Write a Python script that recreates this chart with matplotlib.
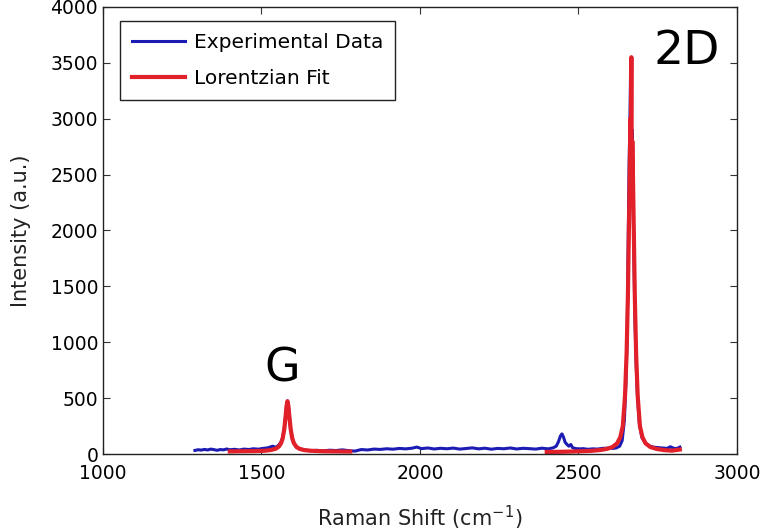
import matplotlib
matplotlib.use('Agg')
import matplotlib.pyplot as plt
import numpy as np

# experimental spectrum (blue)
exp_x = [1290, 1300, 1310, 1320, 1330, 1340, 1350, 1360, 1370, 1380, 1390, 1400,
         1415, 1430, 1445, 1460, 1475, 1490, 1505, 1520, 1535,
         1545, 1555, 1562, 1567, 1572, 1576, 1579, 1582, 1585, 1588, 1592, 1597,
         1602, 1610, 1620,
         1635, 1655, 1675, 1695, 1715, 1735, 1755, 1775, 1795, 1815, 1835, 1855,
         1875, 1895, 1915, 1935, 1955, 1975, 1990, 2005, 2025, 2045, 2065, 2085,
         2105, 2125, 2145, 2165, 2185, 2205, 2225, 2245, 2265, 2285, 2305, 2325,
         2345, 2365, 2385, 2405, 2420,
         2430, 2437, 2443, 2448, 2453, 2458, 2464, 2470, 2476, 2482, 2490,
         2500, 2515, 2530, 2545, 2560, 2575, 2590, 2600, 2610,
         2620, 2630, 2638, 2645, 2650, 2654, 2657, 2660, 2662, 2664, 2665, 2666,
         2668, 2670, 2672, 2675, 2678, 2682, 2686, 2692, 2700, 2710, 2725, 2740,
         2760, 2780, 2790, 2800, 2810, 2820]
exp_y = [32, 38, 35, 41, 36, 44, 39, 33, 40, 37, 45, 38,
         42, 36, 44, 40, 47, 43, 50, 55, 70,
         60, 80, 110, 150, 230, 340, 430, 475, 420, 330, 220, 140,
         100, 62, 48,
         36, 30, 33, 28, 34, 31, 37, 30, 26, 40, 36, 44,
         41, 47, 43, 50, 46, 52, 62, 48, 54, 45, 51, 47,
         53, 44, 49, 55, 46, 52, 43, 50, 47, 54, 45, 51,
         48, 44, 52, 46, 55,
         70, 110, 160, 180, 150, 105, 85, 70, 85, 55, 50,
         45, 48, 42, 46, 44, 50, 52, 55, 50,
         55, 70, 120, 300, 650, 1100, 1900, 2600, 2900, 3300, 3540, 3200,
         2600, 2900, 2400, 1800, 1250, 820, 540, 280, 150, 100, 70, 60,
         55, 50, 65, 52, 48, 62]

# lorentzian fit (red), G band and 2D band
fit_g_x = [1400, 1440, 1480, 1510, 1530, 1545, 1555, 1562, 1567, 1572, 1576, 1579,
           1582, 1585, 1588, 1592, 1597, 1602, 1610, 1620, 1635, 1655, 1680, 1710,
           1745, 1780]
fit_g_y = [23, 25, 26, 29, 36, 47, 67, 98, 141, 224, 333, 427,
           472, 427, 333, 224, 141, 98, 64, 46, 35, 29, 26, 24,
           23, 22]
fit_2d_x = [2400, 2450, 2500, 2540, 2570, 2590, 2607, 2622, 2632, 2640, 2647, 2652,
            2656, 2659, 2662, 2664, 2665, 2666, 2667, 2668, 2669, 2670, 2672, 2675,
            2678, 2682, 2687, 2694, 2702, 2712, 2727, 2747, 2770, 2795, 2820]
fit_2d_y = [18, 20, 24, 28, 36, 46, 62, 95, 150, 250, 520, 900,
            1400, 1950, 2550, 3000, 2400, 3100, 3550, 2650, 2450, 2800, 2500, 1950,
            1400, 900, 520, 250, 150, 95, 62, 45, 35, 30, 40]

fig = plt.figure(figsize=(7.66, 5.31), dpi=100)
ax = fig.add_axes([0.1345, 0.145, 0.8275, 0.842])

blue = '#1c1cb4'
red = '#e2202a'
ax.plot(exp_x, exp_y, color=blue, lw=2.2, label='Experimental Data')
ax.plot(fit_g_x, fit_g_y, color=red, lw=3.0, label='Lorentzian Fit')
ax.plot(fit_2d_x, fit_2d_y, color=red, lw=3.0)

ax.set_xlim(1000, 3000)
ax.set_ylim(0, 4000)
ax.set_xticks([1000, 1500, 2000, 2500, 3000])
ax.set_yticks(np.arange(0, 4001, 500))
ax.tick_params(direction='in', top=True, right=True, labelsize=13.5, length=5,
               color='#333333')
ax.tick_params(axis='x', pad=7.5)
for s in ax.spines.values():
    s.set_linewidth(1.0)
    s.set_color('#222222')

ax.set_xlabel('Raman Shift (cm$^{-1}$)', fontsize=15, color='#222222')
ax.set_ylabel('Intensity (a.u.)', fontsize=15, color='#222222')
ax.xaxis.set_label_coords(0.5, -0.112)
ax.yaxis.set_label_coords(-0.113, 0.5)

ax.text(1565, 760, 'G', fontsize=33, ha='center', va='center')
ax.text(2842, 3605, '2D', fontsize=34, ha='center', va='center')

leg = ax.legend(loc='upper left', bbox_to_anchor=(0.027, 0.969), fontsize=14.5,
                fancybox=False, framealpha=1, edgecolor='#222222',
                handlelength=2.6, handletextpad=0.45, labelspacing=0.85,
                borderpad=0.6, borderaxespad=0)
leg.get_frame().set_linewidth(1.0)

plt.savefig('out.png', dpi=100)
